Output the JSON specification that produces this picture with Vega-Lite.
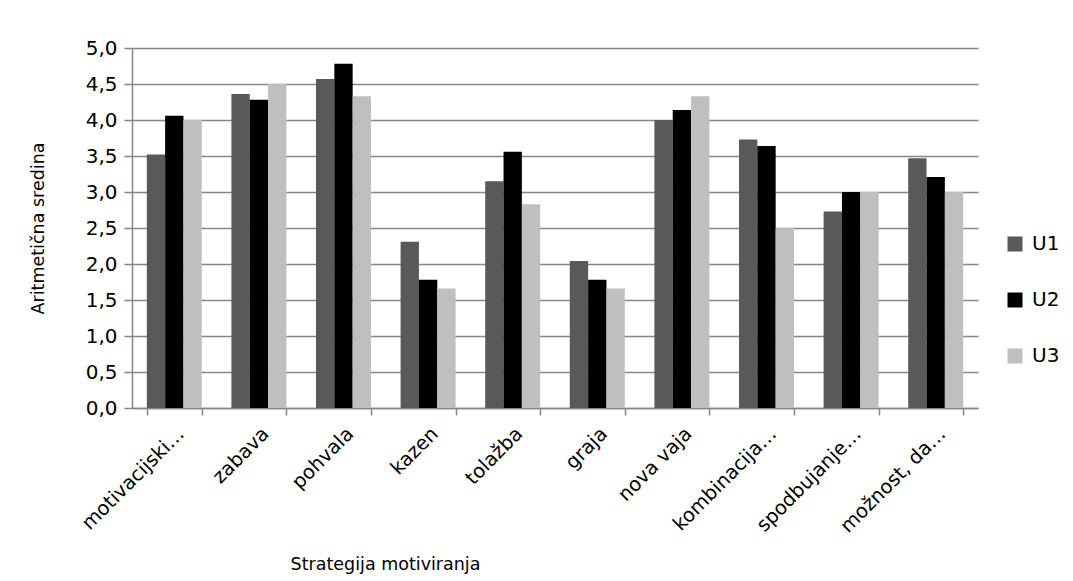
{
  "$schema": "https://vega.github.io/schema/vega-lite/v6.json",
  "autosize": "none",
  "width": 846,
  "height": 360,
  "padding": {"left": 132, "top": 48, "right": 95, "bottom": 173},
  "background": "white",
  "config": {
    "font": "DejaVu Sans",
    "view": {"stroke": null}
  },
  "data": {
    "values": [
      {"s": "motivacijski…", "u": "U1", "v": 3.52},
      {"s": "motivacijski…", "u": "U2", "v": 4.06},
      {"s": "motivacijski…", "u": "U3", "v": 4.0},
      {"s": "zabava", "u": "U1", "v": 4.36},
      {"s": "zabava", "u": "U2", "v": 4.28},
      {"s": "zabava", "u": "U3", "v": 4.5},
      {"s": "pohvala", "u": "U1", "v": 4.57},
      {"s": "pohvala", "u": "U2", "v": 4.78},
      {"s": "pohvala", "u": "U3", "v": 4.33},
      {"s": "kazen", "u": "U1", "v": 2.31},
      {"s": "kazen", "u": "U2", "v": 1.78},
      {"s": "kazen", "u": "U3", "v": 1.66},
      {"s": "tolažba", "u": "U1", "v": 3.15},
      {"s": "tolažba", "u": "U2", "v": 3.56},
      {"s": "tolažba", "u": "U3", "v": 2.83},
      {"s": "graja", "u": "U1", "v": 2.04},
      {"s": "graja", "u": "U2", "v": 1.78},
      {"s": "graja", "u": "U3", "v": 1.66},
      {"s": "nova vaja", "u": "U1", "v": 4.0},
      {"s": "nova vaja", "u": "U2", "v": 4.14},
      {"s": "nova vaja", "u": "U3", "v": 4.33},
      {"s": "kombinacija…", "u": "U1", "v": 3.73},
      {"s": "kombinacija…", "u": "U2", "v": 3.64},
      {"s": "kombinacija…", "u": "U3", "v": 2.5},
      {"s": "spodbujanje…", "u": "U1", "v": 2.73},
      {"s": "spodbujanje…", "u": "U2", "v": 3.0},
      {"s": "spodbujanje…", "u": "U3", "v": 3.0},
      {"s": "možnost, da…", "u": "U1", "v": 3.47},
      {"s": "možnost, da…", "u": "U2", "v": 3.21},
      {"s": "možnost, da…", "u": "U3", "v": 3.0}
    ]
  },
  "mark": {"type": "bar"},
  "encoding": {
    "x": {
      "field": "s",
      "type": "nominal",
      "sort": null,
      "scale": {"paddingInner": 0.35, "paddingOuter": 0.175},
      "axis": {
        "title": "Strategija motiviranja",
        "titleFont": "DejaVu Sans",
        "titleFontSize": 17.5,
        "titleFontWeight": "normal",
        "titleColor": "black",
        "titleAnchor": "start",
        "titleAlign": "center",
        "titleX": 253,
        "titleY": 156,
        "titleBaseline": "middle",
        "labelAngle": -45,
        "labelAlign": "right",
        "labelBaseline": "top",
        "labelFontSize": 19.5,
        "labelColor": "black",
        "labelPadding": 9,
        "labelDx": 4,
        "labelOverlap": false,
        "labelBound": false,
        "tickBand": "extent",
        "tickSize": 7,
        "tickColor": "#868686",
        "tickWidth": 1.5,
        "domainColor": "#868686",
        "domainWidth": 1.5,
        "grid": false
      }
    },
    "xOffset": {"field": "u", "type": "nominal", "scale": {"paddingInner": 0, "paddingOuter": 0}},
    "y": {
      "field": "v",
      "type": "quantitative",
      "scale": {"domain": [0, 5], "nice": false},
      "axis": {
        "title": "Aritmetična sredina",
        "titleFont": "DejaVu Sans",
        "titleFontSize": 17.5,
        "titleFontWeight": "normal",
        "titleColor": "black",
        "titlePadding": 38,
        "values": [0, 0.5, 1, 1.5, 2, 2.5, 3, 3.5, 4, 4.5, 5],
        "labelExpr": "replace(format(datum.value, '.1f'), '.', ',')",
        "labelFontSize": 20,
        "labelColor": "black",
        "labelPadding": 7,
        "tickSize": 8,
        "tickColor": "#868686",
        "tickWidth": 1.5,
        "domainColor": "#868686",
        "domainWidth": 1.5,
        "grid": true,
        "gridColor": "#868686",
        "gridWidth": 1.5
      }
    },
    "color": {
      "field": "u",
      "type": "nominal",
      "scale": {"domain": ["U1", "U2", "U3"], "range": ["#595959", "#000000", "#bfbfbf"]},
      "legend": {
        "title": null,
        "orient": "none",
        "legendX": 873,
        "legendY": 186,
        "symbolType": "square",
        "symbolSize": 225,
        "symbolStrokeWidth": 0,
        "symbolOpacity": 1,
        "labelFontSize": 20,
        "labelColor": "black",
        "labelOffset": 7,
        "rowPadding": 36
      }
    }
  }
}
